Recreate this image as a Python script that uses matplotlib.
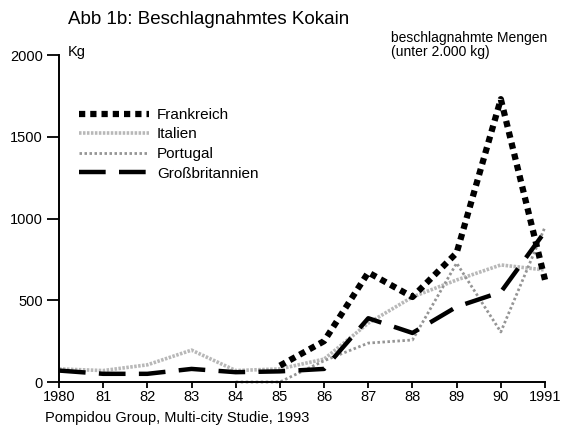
import matplotlib.pyplot as plt
import numpy as np

plt.rcParams["font.family"] = ["Liberation Sans", "DejaVu Sans"]

years = np.arange(1980, 1992)
tick_labels = ["1980", "81", "82", "83", "84", "85", "86", "87", "88", "89", "90", "1991"]

frankreich = [np.nan, np.nan, np.nan, np.nan, np.nan, 100, 250, 670, 520, 790, 1730, 625]
italien = [80, 70, 105, 195, 70, 80, 140, 360, 520, 624, 716, 685]
portugal = [np.nan, np.nan, np.nan, np.nan, 0, 0, 130, 238, 257, 727, 306, 948]
grossbritannien = [70, 50, 50, 80, 60, 65, 80, 390, 300, 460, 550, 920]

fig = plt.figure(figsize=(5.65, 4.29), dpi=100)
ax = fig.add_axes([59 / 565, 47 / 429, 486 / 565, 327 / 429])

l_it, = ax.plot(years, italien, color="#b8b8b8", lw=2.6, linestyle=(0, (0.7, 0.4)),
                clip_on=False)
l_pt, = ax.plot(years, portugal, color="#959595", lw=2.0, linestyle=(0, (0.9, 0.9)),
                clip_on=False)
l_gb, = ax.plot(years, grossbritannien, color="black", lw=3.2, linestyle=(0, (6, 3)),
                clip_on=False)
l_fr, = ax.plot(years, frankreich, color="black", lw=4.5, linestyle=(0, (1, 0.8)),
                clip_on=False)

ax.set_xlim(1980, 1991)
ax.set_ylim(0, 2000)
ax.set_xticks(years)
ax.set_xticklabels(tick_labels, fontsize=10.5)
ax.set_yticks([0, 500, 1000, 1500, 2000])
ax.set_yticklabels(["0", "500", "1000", "1500", "2000"], fontsize=10.5)
ax.tick_params(axis="y", direction="out", length=8.6, width=1.3, pad=3)
ax.tick_params(axis="x", direction="out", length=4, width=1.3, pad=2)
for side in ["top", "right"]:
    ax.spines[side].set_visible(False)
for side in ["left", "bottom"]:
    ax.spines[side].set_linewidth(1.4)

fig.legend([l_fr, l_it, l_pt, l_gb],
           ["Frankreich", "Italien", "Portugal", "Großbritannien"],
           loc="upper left", bbox_to_anchor=(79 / 565, 1 - 108 / 429),
           frameon=False, fontsize=11, handlelength=4.6, handletextpad=0.5,
           labelspacing=0.36, borderpad=0, borderaxespad=0)

fig.text(68 / 565, 1 - 20 / 429, "Abb 1b: Beschlagnahmtes Kokain", fontsize=13.5,
         va="center", ha="left")
fig.text(68 / 565, 1 - 52 / 429, "Kg", fontsize=10.5, va="center", ha="left")
fig.text(391 / 565, 1 - 45 / 429, "beschlagnahmte Mengen\n(unter 2.000 kg)",
         fontsize=10, va="center", ha="left", linespacing=0.95)
fig.text(45 / 565, 1 - 418 / 429, "Pompidou Group, Multi-city Studie, 1993",
         fontsize=10.5, va="center", ha="left")

fig.savefig("out.png", dpi=100)
